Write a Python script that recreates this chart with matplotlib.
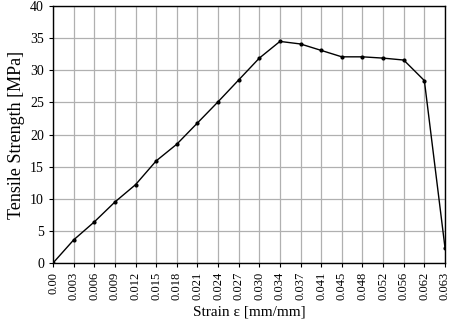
import matplotlib
matplotlib.use('Agg')
import matplotlib.pyplot as plt

plt.rcParams['font.family'] = ['Liberation Serif', 'DejaVu Serif']

# strain categories (mm/mm) and tensile strength (MPa)
strain_labels = ['0.00', '0.003', '0.006', '0.009', '0.012', '0.015', '0.018',
                 '0.021', '0.024', '0.027', '0.030', '0.034', '0.037', '0.041',
                 '0.045', '0.048', '0.052', '0.056', '0.062', '0.063']
strength = [0, 3.6, 6.4, 9.5, 12.2, 15.9, 18.5, 21.8, 25.1, 28.5, 31.9, 34.5,
            34.1, 33.1, 32.1, 32.1, 31.9, 31.6, 28.4, 2.4]

fig = plt.figure(figsize=(4.55, 3.2), dpi=100)
ax = fig.add_axes([0.1165, 0.178, 0.8615, 0.803])

x = list(range(len(strain_labels)))
ax.plot(x, strength, color='black', linewidth=1.0, marker='o', markersize=2)

ax.set_xlim(0, len(strain_labels) - 1)
ax.set_ylim(0, 40)
ax.set_yticks(range(0, 41, 5))
ax.set_xticks(x)
ax.set_xticklabels(strain_labels, rotation=90, fontsize=9)
ax.tick_params(axis='y', labelsize=10, length=3)
ax.tick_params(axis='x', length=3)
ax.grid(True, color='#b0b0b0', linewidth=0.9)
ax.set_axisbelow(True)
for s in ax.spines.values():
    s.set_color('black')
    s.set_linewidth(1.0)

ax.set_xlabel('Strain ε [mm/mm]', fontsize=11)
ax.set_ylabel('Tensile Strength [MPa]', fontsize=13)

fig.savefig('out.png', dpi=100)
